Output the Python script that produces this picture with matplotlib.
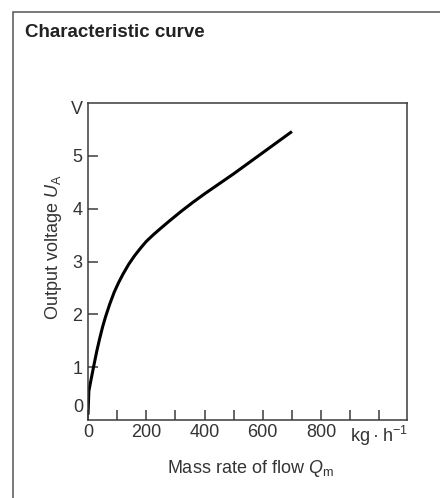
import matplotlib
matplotlib.use("Agg")
import matplotlib.pyplot as plt
from matplotlib.patches import Rectangle

plt.rcParams['font.family'] = ['Liberation Sans', 'DejaVu Sans']
plt.rcParams['mathtext.fontset'] = 'custom'
plt.rcParams['mathtext.rm'] = 'Liberation Sans'
plt.rcParams['mathtext.it'] = 'Liberation Sans:italic'

# Values (kg/h vs V)
mass_flow = [0, 3, 10, 20, 30, 40, 50, 60, 75, 90, 105, 120, 140, 160, 180, 200,
             225, 250, 280, 320, 360, 400, 450, 500, 550, 600, 650, 700]
voltage = [0.1, 0.55, 0.75, 1.03, 1.30, 1.54, 1.76, 1.95, 2.20, 2.42, 2.60, 2.76,
           2.95, 3.11, 3.25, 3.38, 3.51, 3.63, 3.77, 3.95, 4.12, 4.28, 4.47, 4.66,
           4.86, 5.06, 5.26, 5.46]

x_ticks = [0, 100, 200, 300, 400, 500, 600, 700, 800, 900, 1000]
x_tick_labels = ['0', '', '200', '', '400', '', '600', '', '800', '',
                 'kg\u2009\u00b7\u2009h$^{-1}$']
y_ticks = [1, 2, 3, 4, 5]
y_tick_labels = ['1', '2', '3', '4', '5']

text_col = '#333333'
line_col = '#3a3a3a'

fig = plt.figure(figsize=(4.4, 4.98), dpi=100)

# outer frame (only left and top edges fall inside the picture)
fig.patches.append(Rectangle((13 / 440, -0.2), 1.5, 1.2 - 12 / 498,
                             transform=fig.transFigure, fill=False,
                             edgecolor='#555555', linewidth=1.1))

fig.text(25 / 440, 1 - 37 / 498, 'Characteristic curve', fontsize=13.5,
         fontweight='bold', color='#222222', va='baseline')

ax = fig.add_axes([88 / 440, 1 - 420 / 498, 319 / 440, 317 / 498])
ax.plot(mass_flow, voltage, color='black', linewidth=2.2, solid_capstyle='butt')

ax.set_xlim(0, 1095)
ax.set_ylim(0, 6)

ax.set_xticks(x_ticks)
ax.set_xticklabels(x_tick_labels)
ax.set_yticks(y_ticks)
ax.set_yticklabels(y_tick_labels)
ax.tick_params(direction='in', length=7, width=1.1, color=line_col,
               labelsize=13, labelcolor=text_col)
ax.tick_params(axis='x', pad=3)
ax.tick_params(axis='y', pad=4)

# "0" at the origin and unit "V" at the top of the voltage axis
ax.text(-0.016, 0.04, '0', transform=ax.transAxes, ha='right', va='center',
        fontsize=13, color=text_col)
ax.text(-0.016, 0.98, 'V', transform=ax.transAxes, ha='right', va='center',
        fontsize=13, color=text_col)

for s in ax.spines.values():
    s.set_linewidth(1.1)
    s.set_color(line_col)

ax.set_xlabel(r'Mass rate of flow $Q_\mathrm{m}$', fontsize=13, color=text_col)
ax.set_ylabel(r'Output voltage $U_\mathrm{A}$', fontsize=13, color=text_col)
ax.xaxis.set_label_coords(0.508, -0.12)
ax.yaxis.set_label_coords(-0.075, 0.545)

plt.savefig('out.png', dpi=100)
